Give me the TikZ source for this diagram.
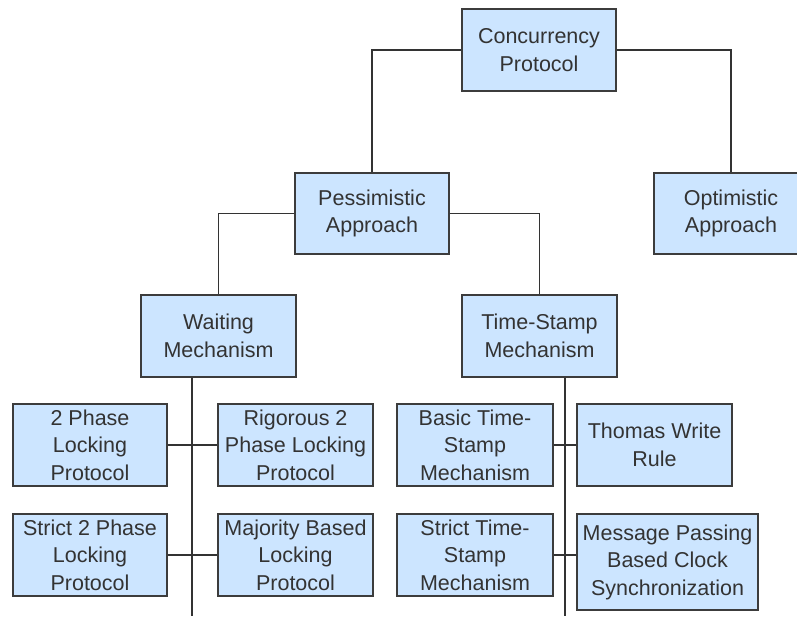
\documentclass[tikz,border=0pt]{standalone}
\usepackage{fontspec}
\setmainfont{Liberation Sans}
\definecolor{boxfill}{HTML}{CCE5FF}
\definecolor{boxline}{HTML}{3C3C3C}
\definecolor{linec}{HTML}{333333}
\definecolor{txt}{HTML}{333333}
\begin{document}
\begin{tikzpicture}[x=1pt,y=-1pt,
  box/.style={draw=boxline, fill=boxfill, line width=1.4pt, align=center, inner sep=0pt,
    font=\fontsize{21.5}{27.5}\selectfont, text=txt, minimum width=154pt, minimum height=82pt},
  link/.style={draw=linec, line width=1.4pt}]
\useasboundingbox (0,0) rectangle (797,616);
\clip (0,0) rectangle (797,616);
\fill[white] (0,0) rectangle (797,616);

\node[box] (cp) at (539,50) {Concurrency\\Protocol};
\node[box, minimum height=81pt] (pa) at (372,213.5) {Pessimistic\\Approach};
\node[box, minimum height=81pt] (oa) at (731,213.5) {Optimistic\\Approach};
\node[box, minimum width=155pt] (wm) at (218.5,336) {Waiting\\Mechanism};
\node[box, minimum width=155pt] (tm) at (539.5,336) {Time-Stamp\\Mechanism};

\node[box] (tp) at (90,445) {2 Phase\\Locking\\Protocol};
\node[box, minimum width=155pt] (rg) at (295.5,445) {Rigorous 2\\Phase Locking\\Protocol};
\node[box] (s2) at (90,555) {Strict 2 Phase\\Locking\\Protocol};
\node[box, minimum width=155pt] (mb) at (295.5,555) {Majority Based\\Locking\\Protocol};

\node[box, minimum width=156pt] (bt) at (475,445) {Basic Time-\\Stamp\\Mechanism};
\node[box, minimum width=155pt] (tw) at (654.5,445) {Thomas Write\\Rule};
\node[box, minimum width=156pt] (st) at (475,555) {Strict Time-\\Stamp\\Mechanism};
\node[box, minimum width=181pt, minimum height=96pt] (mp) at (667.5,562) {Message Passing\\Based Clock\\Synchronization};

\coordinate (wend) at (192,616);
\coordinate (tend) at (565,616);

\draw[link] (cp.west) -| (pa.north);
\draw[link] (cp.east) -| (oa.north);
\draw[link] (pa.west) -| (wm.north);
\draw[link] (pa.east) -| (tm.north);
\draw[link] (wend |- wm.south) -- (wend);
\draw[link] (tend |- tm.south) -- (tend);
\draw[link] (tp.east) -- (rg.west);
\draw[link] (s2.east) -- (mb.west);
\draw[link] (bt.east) -- (tw.west);
\draw[link] (st.east) -- (st.east -| mp.west);
\end{tikzpicture}
\end{document}
